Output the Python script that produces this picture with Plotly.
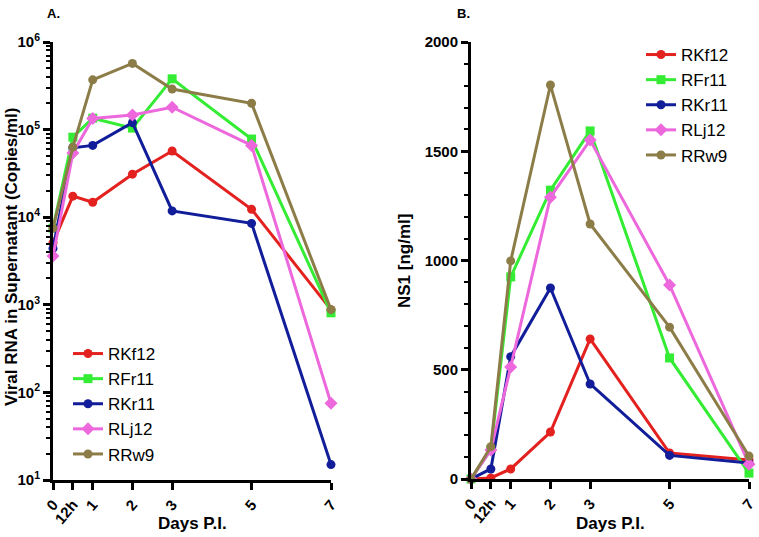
import plotly.graph_objects as go

W, H = 759, 537

days = [0, 0.5, 1, 2, 3, 5, 7]
day_ticks = ["0", "12h", "1", "2", "3", "5", "7"]
names = ["RKf12", "RFr11", "RKr11", "RLj12", "RRw9"]
colors = ["#e3211f", "#34ec34", "#111d99", "#ec68dc", "#8c7d48"]
symbols = ["circle", "square", "circle", "diamond", "circle"]

rna_RKf12 = [5100, 17400, 14800, 31000, 57000, 12300, 880]
rna_RFr11 = [7500, 82000, 135000, 104000, 380000, 78000, 810]
rna_RKr11 = [4400, 62000, 66000, 120000, 11800, 8500, 15]
rna_RLj12 = [3600, 54000, 134000, 147000, 180000, 66000, 75]
rna_RRw9 = [7500, 63000, 370000, 570000, 290000, 200000, 880]

ns1_RKf12 = [0, 5, 46, 215, 641, 119, 87]
ns1_RFr11 = [0, 135, 925, 1322, 1593, 554, 27]
ns1_RKr11 = [0, 46, 560, 874, 435, 108, 73]
ns1_RLj12 = [0, 133, 513, 1290, 1551, 888, 68]
ns1_RRw9 = [0, 148, 998, 1803, 1167, 695, 105]

rna = [rna_RKf12, rna_RFr11, rna_RKr11, rna_RLj12, rna_RRw9]
ns1 = [ns1_RKf12, ns1_RFr11, ns1_RKr11, ns1_RLj12, ns1_RRw9]

log_tickvals = [10, 100, 1000, 10000, 100000, 1000000]
log_ticktext = ["10<sup>1</sup>", "10<sup>2</sup>", "10<sup>3</sup>",
                "10<sup>4</sup>", "10<sup>5</sup>", "10<sup>6</sup>"]
ns1_tickvals = [0, 500, 1000, 1500, 2000]

FONT = "Liberation Sans, Arial, sans-serif"

fig = go.Figure()
for i, n in enumerate(names):
    fig.add_trace(go.Scatter(
        x=days, y=rna[i], name=n, mode="lines+markers",
        line=dict(color=colors[i], width=3),
        marker=dict(symbol=symbols[i], size=9 if symbols[i] != "diamond" else 10, color=colors[i]),
        cliponaxis=False, xaxis="x", yaxis="y", legend="legend"))
for i, n in enumerate(names):
    fig.add_trace(go.Scatter(
        x=days, y=ns1[i], name=n, mode="lines+markers",
        line=dict(color=colors[i], width=3),
        marker=dict(symbol=symbols[i], size=9 if symbols[i] != "diamond" else 10, color=colors[i]),
        cliponaxis=False, xaxis="x2", yaxis="y2", legend="legend2"))

def px(x):
    return x / W

def py(y):
    return 1 - y / H

tickfont = dict(family=FONT, size=15, color="black", weight="bold")
xcommon = dict(
    tickvals=days, ticktext=day_ticks, tickangle=-50, range=[0, 7],
    showline=True, linecolor="black", linewidth=3, ticks="outside",
    ticklen=7, tickwidth=2.5, tickcolor="black", showgrid=False, zeroline=False,
    tickfont=tickfont, automargin=False,
)

fig.update_layout(
    width=W, height=H, margin=dict(l=0, r=0, t=0, b=0, autoexpand=False),
    paper_bgcolor="white", plot_bgcolor="white",
    font=dict(family=FONT, color="black"),
    xaxis=dict(domain=[px(53), px(331)], anchor="y", **xcommon),
    xaxis2=dict(domain=[px(471), px(749)], anchor="y2", **xcommon),
    yaxis=dict(
        domain=[py(480), py(42)], anchor="x", type="log", range=[1, 6],
        tickvals=log_tickvals, ticktext=log_ticktext,
        showline=True, linecolor="black", linewidth=3, ticks="outside",
        ticklen=7, tickwidth=2.5, tickcolor="black", showgrid=False, zeroline=False,
        tickfont=tickfont, automargin=False,
        minor=dict(ticks="outside", ticklen=4, tickwidth=1.5, tickcolor="black",
                   dtick="D1", showgrid=False),
    ),
    yaxis2=dict(
        domain=[py(479), py(42)], anchor="x2", range=[0, 2000],
        tickvals=ns1_tickvals,
        showline=True, linecolor="black", linewidth=3, ticks="outside",
        ticklen=7, tickwidth=2.5, tickcolor="black", showgrid=False, zeroline=False,
        tickfont=tickfont, automargin=False,
        minor=dict(ticks="outside", ticklen=4, tickwidth=1.5, tickcolor="black",
                   dtick=100, showgrid=False),
    ),
    legend=dict(x=px(68), y=py(336), xanchor="left", yanchor="top",
                bgcolor="rgba(0,0,0,0)", font=dict(family=FONT, size=17, color="black"),
                itemwidth=30, tracegroupgap=0),
    legend2=dict(x=px(641), y=py(37), xanchor="left", yanchor="top",
                 bgcolor="rgba(0,0,0,0)", font=dict(family=FONT, size=17, color="black"),
                 itemwidth=30, tracegroupgap=0),
    showlegend=True,
)

ann_font = dict(family=FONT, size=17, color="black", weight="bold")
fig.add_annotation(x=px(192), y=py(523), xref="paper", yref="paper", text="Days P.I.",
                   showarrow=False, font=ann_font, xanchor="center", yanchor="middle")
fig.add_annotation(x=px(610), y=py(523), xref="paper", yref="paper", text="Days P.I.",
                   showarrow=False, font=ann_font, xanchor="center", yanchor="middle")
fig.add_annotation(x=px(11), y=py(257), xref="paper", yref="paper",
                   text="Viral RNA in Supernatant (Copies/ml)", textangle=-90,
                   showarrow=False, font=ann_font,
                   xanchor="center", yanchor="middle")
fig.add_annotation(x=px(404), y=py(261), xref="paper", yref="paper",
                   text="NS1 [ng/ml]", textangle=-90,
                   showarrow=False, font=ann_font, xanchor="center", yanchor="middle")
fig.add_annotation(x=px(45), y=py(13), xref="paper", yref="paper", text="A.",
                   showarrow=False, font=dict(family=FONT, size=13, color="black", weight="bold"),
                   xanchor="left", yanchor="middle")
fig.add_annotation(x=px(455), y=py(13), xref="paper", yref="paper", text="B.",
                   showarrow=False, font=dict(family=FONT, size=13, color="black", weight="bold"),
                   xanchor="left", yanchor="middle")

fig.write_html("out.html", config={"displayModeBar": False})

# remove the default page margin so the figure fills the window exactly
with open("out.html", "r", encoding="utf-8") as f:
    html = f.read()
html = html.replace("<head>", "<head><style>html,body{margin:0;padding:0;overflow:hidden;}</style>", 1)
with open("out.html", "w", encoding="utf-8") as f:
    f.write(html)
